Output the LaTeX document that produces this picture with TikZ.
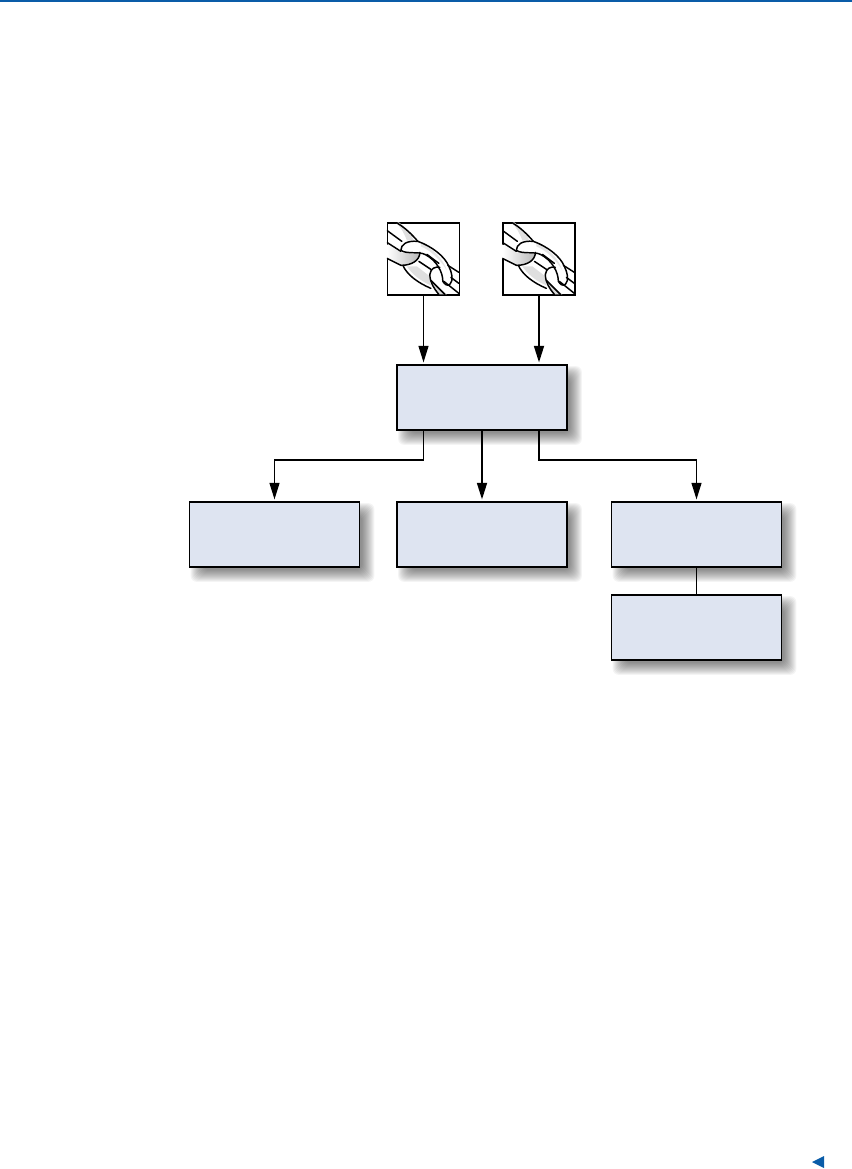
\documentclass[tikz,border=0pt]{standalone}
\usepackage{xcolor}
\usetikzlibrary{arrows.meta,backgrounds}
\definecolor{barblue}{HTML}{0A5CA8}
\definecolor{boxfill}{HTML}{DEE4F1}
\newcommand{\boxshadow}[1]{\begin{scope}[on background layer]
  \foreach \g in {-6,-5,-4,-3,-2,-1,0,1,2,3,4,5,6}
    \fill[black,opacity=0.045,rounded corners=5pt] ([shift={(8-\g,8-\g)}]#1.north west) rectangle ([shift={(8+\g,8+\g)}]#1.south east);
  \end{scope}}
\tikzset{blockbox/.style={draw,line width=1.4pt,fill=boxfill,minimum width=170*0.03cm,minimum height=65*0.03cm,inner sep=0pt},
  iconbox/.style={draw,line width=1.1pt,fill=white,minimum size=72*0.03cm,inner sep=0pt},
  arr/.style={-{Triangle[length=5mm,width=3mm]},line width=1.2pt,shorten >=1.5pt},
  thickarr/.style={arr,line width=1.5pt},
  chainline/.style={line width=1.25pt,line cap=round},
  chainlink/.pic={
    \clip (0,0) rectangle (72,72);
    \shade[left color=white,right color=gray!55] (0,22) -- (14,30) -- (33,32) .. controls (31,39) and (25,42) .. (14,43) -- (0,36) -- cycle;
    \fill[gray!25] (12,0) .. controls (20,6) and (24,12) .. (27,18) -- (20,18) .. controls (17,10) and (14,5) .. (9,0) -- cycle;
    \fill[gray!25] (20,44) .. controls (24,50) and (32,58) .. (44,63) -- (43,54) -- (30,44) -- cycle;
    \fill[gray!30] (46,60) -- (60,72) -- (52,72) -- (46,64) -- cycle;
    \fill[white] (14,28) .. controls (14,22) and (20,18) .. (31,19) .. controls (45,24) and (58,34) .. (62,44) .. controls (65,50) and (67,58) .. (63,62) .. controls (60,64) and (58,62) .. (56,59) .. controls (56,50) and (50,38) .. (38,32) .. controls (32,29) and (20,32) .. (14,28) -- cycle;
    \fill[gray!20] (34,21) .. controls (46,26) and (56,36) .. (60,48) .. controls (54,38) and (44,28) .. (34,24) -- cycle;
    \draw[chainline] (9,0) .. controls (18,5) and (25,12) .. (31,19);
    \draw[chainline] (0,8) -- (15,19);
    \draw[chainline] (0,20) -- (14,29);
    \draw[chainline] (0,36) -- (14,43);
    \draw[chainline] (14,28) .. controls (14,22) and (20,18) .. (31,19) .. controls (45,24) and (58,34) .. (62,44) .. controls (65,50) and (67,58) .. (63,62) .. controls (60,64) and (58,62) .. (56,59);
    \draw[chainline] (14,28) .. controls (20,32) and (32,29) .. (38,32) .. controls (50,38) and (56,50) .. (56,59);
    \draw[chainline] (33,30) .. controls (33,38) and (25,43) .. (14,43);
    \draw[chainline] (16,43) .. controls (20,52) and (30,60) .. (44,66);
    \draw[chainline] (32,39) -- (44,47);
    \draw[chainline] (40,32) -- (52,41);
    \draw[chainline] (53,45) .. controls (48,44) and (44,46) .. (43,52) .. controls (43,60) and (47,66) .. (52,72);
    \draw[chainline] (44,58) -- (58,72);
    \draw[chainline] (57,59) -- (72,71);
    \draw[chainline] (64,55) -- (72,61);
    \draw[chainline] (61,43) -- (72,50);
  }}
\begin{document}
\begin{tikzpicture}[x=0.03cm,y=-0.03cm]
\useasboundingbox (0,0) rectangle (852,1169);
\fill[barblue] (0,0) rectangle (852,2.2);
\fill[barblue] (824,1156) -- (812,1162) -- (824,1168) -- cycle;
\node[iconbox] (linka) at (423.5,259){};
\node[iconbox] (linkb) at (539,259){};
\pic at (linka.north west) {chainlink};
\pic at (linkb.north west) {chainlink};
\node[blockbox] (main) at (482,397.5){};
\node[blockbox] (left) at (274.5,534.5){};
\node[blockbox] (middle) at (482,534.5){};
\node[blockbox] (right) at (696.5,534.5){};
\node[blockbox] (lower) at (696.5,627.5){};
\boxshadow{main}\boxshadow{left}\boxshadow{middle}\boxshadow{right}\boxshadow{lower}
\coordinate (turnl) at (423.5,460); \coordinate (turnr) at (539,460);
\draw[arr] (linka.south) -- (linka.south |- main.north);
\draw[thickarr] (linkb.south) -- (linkb.south |- main.north);
\draw[arr] (turnl |- main.south) -- (turnl) -| (left.north);
\draw[thickarr] (main.south) -- (middle.north);
\draw[arr] (turnr |- main.south) -- (turnr) -| (right.north);
\draw[line width=1.5pt] (right.south) -- (lower.north);
\end{tikzpicture}
\end{document}
